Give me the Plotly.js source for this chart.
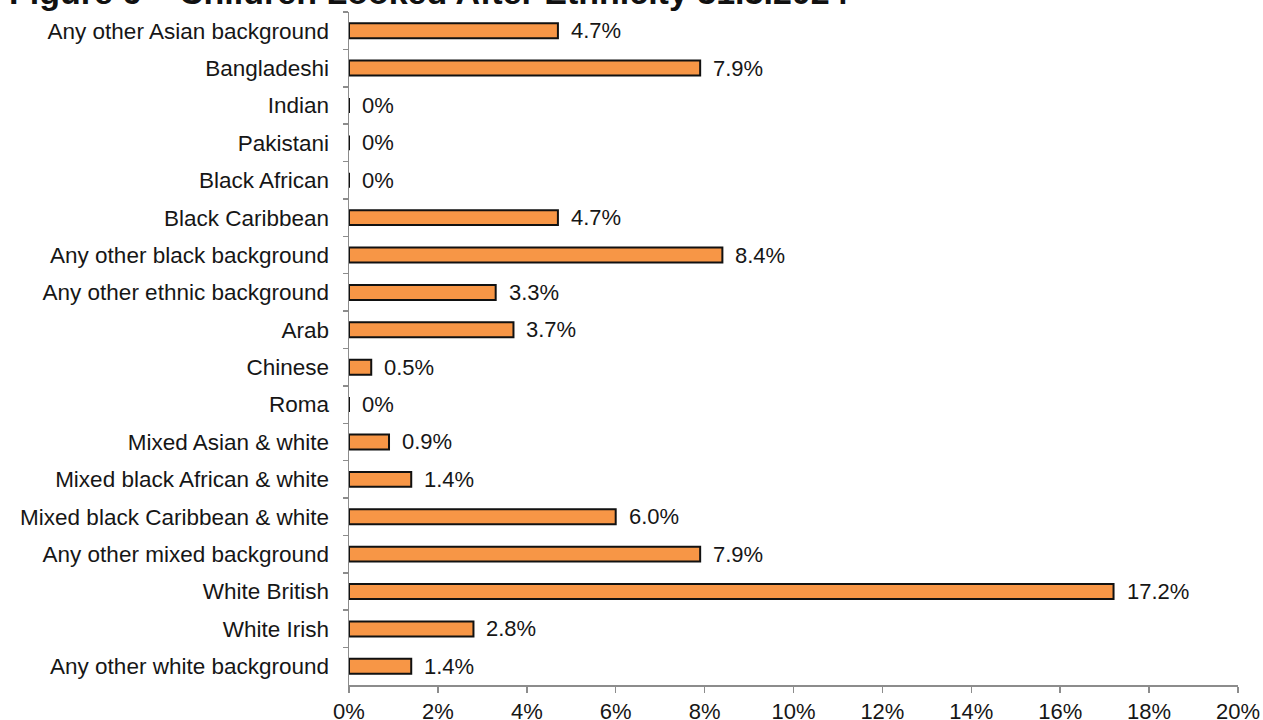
<!DOCTYPE html>
<html>
<head>
<meta charset="utf-8">
<script src="https://cdn.plot.ly/plotly-3.0.1.min.js"></script>
<style>html,body{margin:0;padding:0;background:#fff;}#chart{width:1263px;height:720px;}</style>
</head>
<body>
<div id="chart"></div>
<script>
const chartTitle = "Figure 6 \u2013 Children Looked After Ethnicity 31.3.2024";
const categories = [
  "Any other Asian background",
  "Bangladeshi",
  "Indian",
  "Pakistani",
  "Black African",
  "Black Caribbean",
  "Any other black background",
  "Any other ethnic background",
  "Arab",
  "Chinese",
  "Roma",
  "Mixed Asian & white",
  "Mixed black African & white",
  "Mixed black Caribbean & white",
  "Any other mixed background",
  "White British",
  "White Irish",
  "Any other white background"
];
const percentValues = [4.7, 7.9, 0, 0, 0, 4.7, 8.4, 3.3, 3.7, 0.5, 0, 0.9, 1.4, 6.0, 7.9, 17.2, 2.8, 1.4];
const xTickValues = [0, 2, 4, 6, 8, 10, 12, 14, 16, 18, 20];
const xTickLabels = ["0%", "2%", "4%", "6%", "8%", "10%", "12%", "14%", "16%", "18%", "20%"];

const valueLabels = percentValues.map(v => v === 0 ? "0%" : v.toFixed(1) + "%");
const FONT = "Liberation Sans, Arial, sans-serif";
const TXT = "#161616";

const trace = {
  type: "bar",
  orientation: "h",
  y: categories,
  x: percentValues,
  width: 0.4,
  marker: {color: "#F79646", line: {color: "#111111", width: 2}},
  hoverinfo: "skip"
};

const annotations = categories.map((c, i) => ({
  x: percentValues[i], y: c, xref: "x", yref: "y",
  text: valueLabels[i], showarrow: false,
  xanchor: "left", yanchor: "middle", xshift: 11, yshift: 0,
  font: {family: FONT, size: 22, color: TXT}
}));

annotations.push({
  xref: "paper", yref: "paper", x: -342 / 889, y: 1,
  xanchor: "left", yanchor: "middle", yshift: 20,
  text: "<b>" + chartTitle + "</b>", showarrow: false,
  font: {family: FONT, size: 34, color: "#111111"}
});

const layout = {
  width: 1263, height: 720,
  paper_bgcolor: "#ffffff", plot_bgcolor: "#ffffff",
  margin: {l: 349, r: 25, t: 12, b: 35, pad: 0},
  showlegend: false,
  xaxis: {
    range: [0, 20], tickvals: xTickValues, ticktext: xTickLabels,
    showgrid: false, zeroline: false,
    showline: true, linecolor: "#8c8c8c", linewidth: 1.5,
    ticks: "outside", ticklen: 6, tickcolor: "#8c8c8c", tickwidth: 1.5,
    tickfont: {family: FONT, size: 22, color: TXT},
    fixedrange: true
  },
  yaxis: {
    type: "category", autorange: "reversed",
    showgrid: false, zeroline: false,
    showline: true, linecolor: "#8c8c8c", linewidth: 1.5,
    ticks: "outside", ticklen: 5, tickcolor: "#8c8c8c", tickwidth: 1.5,
    tickson: "boundaries",
    ticklabelstandoff: 14,
    tickfont: {family: FONT, size: 22.5, color: TXT},
    fixedrange: true
  },
  annotations: annotations
};

Plotly.newPlot("chart", [trace], layout, {displayModeBar: false, staticPlot: true});
</script>
</body>
</html>
